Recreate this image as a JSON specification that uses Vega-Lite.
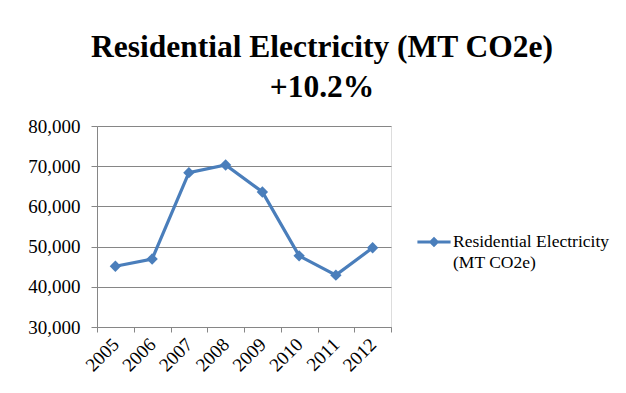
{
  "$schema": "https://vega.github.io/schema/vega-lite/v6.json",
  "autosize": {"type": "none"},
  "width": 294,
  "height": 201,
  "padding": {"left": 97, "top": 126, "right": 235, "bottom": 66},
  "background": "white",
  "config": {
    "style": {"guide-label": {"lineHeight": 21}}
  },
  "title": {
    "text": ["Residential Electricity (MT CO2e)", "+10.2%"],
    "font": "Liberation Serif",
    "fontWeight": "bold",
    "fontSize": 31.5,
    "lineHeight": 40,
    "color": "#000000",
    "anchor": "middle",
    "baseline": "alphabetic",
    "dx": 78,
    "offset": -11
  },
  "data": {
    "values": [
      {"year": "2005", "value": 45100, "series": "Residential Electricity (MT CO2e)"},
      {"year": "2006", "value": 46900, "series": "Residential Electricity (MT CO2e)"},
      {"year": "2007", "value": 68400, "series": "Residential Electricity (MT CO2e)"},
      {"year": "2008", "value": 70300, "series": "Residential Electricity (MT CO2e)"},
      {"year": "2009", "value": 63600, "series": "Residential Electricity (MT CO2e)"},
      {"year": "2010", "value": 47700, "series": "Residential Electricity (MT CO2e)"},
      {"year": "2011", "value": 42900, "series": "Residential Electricity (MT CO2e)"},
      {"year": "2012", "value": 49700, "series": "Residential Electricity (MT CO2e)"}
    ]
  },
  "encoding": {
    "x": {
      "field": "year",
      "type": "ordinal",
      "scale": {"type": "band", "paddingInner": 0, "paddingOuter": 0},
      "axis": {
        "title": null,
        "tickBand": "extent",
        "labelAngle": -45,
        "labelAlign": "right",
        "labelBaseline": "middle",
        "labelFont": "Liberation Serif",
        "labelFontSize": 19,
        "labelColor": "#000000",
        "labelPadding": 9,
        "domainColor": "#868686",
        "tickColor": "#868686",
        "tickSize": 5,
        "grid": false
      }
    },
    "y": {
      "field": "value",
      "type": "quantitative",
      "scale": {"domain": [30000, 80000], "nice": false, "zero": false},
      "axis": {
        "title": null,
        "values": [30000, 40000, 50000, 60000, 70000, 80000],
        "format": ",d",
        "labelFont": "Liberation Serif",
        "labelFontSize": 19,
        "labelColor": "#000000",
        "labelPadding": 11,
        "domainColor": "#868686",
        "tickColor": "#868686",
        "tickSize": 6,
        "grid": true,
        "gridColor": "#868686",
        "gridOpacity": 1
      }
    },
    "color": {
      "field": "series",
      "type": "nominal",
      "scale": {"range": ["#4a7ebb"]},
      "legend": {
        "title": null,
        "orient": "none",
        "legendX": 320,
        "legendY": 90,
        "symbolType": "M-1,0.45H1V0.63H-1Z M0,0.22L0.32,0.54L0,0.86L-0.32,0.54Z",
        "symbolSize": 1100,
        "symbolStrokeWidth": 0,
        "symbolFillColor": "#4a7ebb",
        "symbolOpacity": 1,
        "labelExpr": "['Residential Electricity', '(MT CO2e)']",
        "labelFont": "Liberation Serif",
        "labelFontSize": 17.5,
        "labelColor": "#000000",
        "labelBaseline": "top",
        "labelOffset": 2,
        "labelLimit": 300
      }
    }
  },
  "layer": [
    {"mark": {"type": "line", "strokeWidth": 3.2}},
    {"mark": {"type": "point", "shape": "diamond", "filled": true, "size": 130, "opacity": 1}}
  ]
}
